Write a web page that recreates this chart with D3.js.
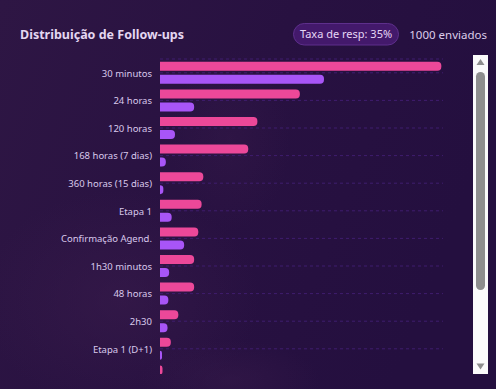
<!DOCTYPE html>
<html>
<head>
<meta charset="utf-8">
<script src="https://cdn.jsdelivr.net/npm/d3@7"></script>
<style>
  html, body { margin: 0; padding: 0; background: #261040; }
  svg { display: block; font-family: "Noto Sans", "Open Sans", sans-serif; }
</style>
</head>
<body>
<div id="chart"></div>
<script>
// categories and values (enviados / respostas)
var categories = [
  "30 minutos", "24 horas", "120 horas", "168 horas (7 dias)", "360 horas (15 dias)",
  "Etapa 1", "Confirmação Agend.", "1h30 minutos", "48 horas", "2h30", "Etapa 1 (D+1)", "Etapa 2"
];
var sentValues = [338, 168, 117, 106, 52, 50, 46, 41, 41, 22, 13, 3];
var respValues = [197, 41, 18, 7, 4, 14, 29, 11, 10, 9, 2, 1];
var seriesKeys = ["sent", "resp"];
var seriesColors = { sent: "#ec4899", resp: "#a855f7" };
var xMax = 340;

var width = 496, height = 389;
var margin = { top: 59, left: 160, right: 53 };
var plotRight = width - margin.right;
var step = 27.6;
var viewTop = 55, viewBottom = 374;

var svg = d3.select("#chart")
  .append("svg")
  .attr("width", width)
  .attr("height", height);

var defs = svg.append("defs");
var bg = defs.append("linearGradient").attr("id", "bg")
  .attr("x1", "0").attr("y1", "0").attr("x2", "1").attr("y2", "0.3");
bg.append("stop").attr("offset", "0%").attr("stop-color", "#2e1644");
bg.append("stop").attr("offset", "55%").attr("stop-color", "#281141");
bg.append("stop").attr("offset", "100%").attr("stop-color", "#240f3f");

var glow = defs.append("radialGradient").attr("id", "glow");
glow.append("stop").attr("offset", "0%").attr("stop-color", "#3a1c4c").attr("stop-opacity", 0.55);
glow.append("stop").attr("offset", "100%").attr("stop-color", "#3a1c4c").attr("stop-opacity", 0);

defs.append("clipPath").attr("id", "view")
  .append("rect")
  .attr("x", 0).attr("y", viewTop)
  .attr("width", width).attr("height", viewBottom - viewTop);

// labels of rows that are scrolled out of view stay hidden
defs.append("clipPath").attr("id", "labelView")
  .append("rect")
  .attr("x", 0).attr("y", viewTop)
  .attr("width", width).attr("height", viewBottom - viewTop - 4);

svg.append("rect").attr("width", width).attr("height", height).attr("fill", "url(#bg)");
svg.append("ellipse").attr("cx", 120).attr("cy", 300).attr("rx", 140).attr("ry", 110).attr("fill", "url(#glow)");
svg.append("ellipse").attr("cx", 230).attr("cy", 140).attr("rx", 60).attr("ry", 90).attr("fill", "url(#glow)").attr("opacity", 0.6);
svg.append("ellipse").attr("cx", 230).attr("cy", 380).attr("rx", 90).attr("ry", 40).attr("fill", "url(#glow)").attr("opacity", 0.8);

// header
svg.append("text")
  .attr("x", 20).attr("y", 39)
  .attr("fill", "#e4d7f1")
  .attr("font-size", "12.5px")
  .attr("font-weight", 700)
  .text("Distribuição de Follow-ups");

svg.append("rect")
  .attr("x", 293.5).attr("y", 23.5)
  .attr("width", 105).attr("height", 21.5)
  .attr("rx", 10.75)
  .attr("fill", "#43196b")
  .attr("stroke", "#5e2f8c");

svg.append("text")
  .attr("x", 346).attr("y", 38)
  .attr("text-anchor", "middle")
  .attr("fill", "#e6d6f5")
  .attr("font-size", "11px")
  .text("Taxa de resp: 35%");

svg.append("text")
  .attr("x", 487).attr("y", 38.5)
  .attr("text-anchor", "end")
  .attr("fill", "#dccdea")
  .attr("font-size", "11.5px")
  .text("1000 enviados");

// scales
var x = d3.scaleLinear()
  .domain([0, xMax])
  .range([margin.left, plotRight]);

var y = d3.scaleBand()
  .domain(categories)
  .range([margin.top, margin.top + step * categories.length])
  .padding(0);

var ySeries = d3.scaleBand()
  .domain(seriesKeys)
  .range([0, y.bandwidth()])
  .paddingInner(4 / 13)
  .paddingOuter(0.2154);

var data = categories.map(function(c, i) {
  return { category: c, sent: sentValues[i], resp: respValues[i] };
});

var plot = svg.append("g").attr("clip-path", "url(#view)");

// grid
var gridYs = [margin.top].concat(categories.map(function(c) { return y(c) + y.bandwidth() / 2; }));
plot.selectAll(".grid")
  .data(gridYs)
  .enter()
  .append("line")
  .attr("class", "grid")
  .attr("x1", margin.left).attr("x2", plotRight)
  .attr("y1", function(d) { return d; })
  .attr("y2", function(d) { return d; })
  .attr("stroke", "#3f1d6e")
  .attr("stroke-width", 1)
  .attr("stroke-dasharray", "3 3");

// category labels
var yAxis = svg.append("g")
  .attr("clip-path", "url(#labelView)")
  .append("g")
  .attr("transform", "translate(" + (margin.left - 8) + ",0)")
  .call(d3.axisLeft(y).tickSize(0).tickPadding(0));
yAxis.select(".domain").remove();
yAxis.selectAll("text")
  .attr("fill", "#d9c9ec")
  .attr("font-size", "9.5px")
  .attr("dy", "0.4em")
  .attr("font-family", "\"Noto Sans\", sans-serif");

// bars with rounded right end
function barPath(x0, y0, w, h, r) {
  r = Math.min(r, w, h / 2);
  return "M" + x0 + "," + y0 +
    "H" + (x0 + w - r) +
    "A" + r + "," + r + " 0 0 1 " + (x0 + w) + "," + (y0 + r) +
    "V" + (y0 + h - r) +
    "A" + r + "," + r + " 0 0 1 " + (x0 + w - r) + "," + (y0 + h) +
    "H" + x0 + "Z";
}

var groups = plot.selectAll(".cat")
  .data(data)
  .enter()
  .append("g")
  .attr("class", "cat")
  .attr("transform", function(d) { return "translate(0," + y(d.category) + ")"; });

groups.selectAll("path")
  .data(function(d) { return seriesKeys.map(function(k) { return { key: k, value: d[k] }; }); })
  .enter()
  .append("path")
  .attr("fill", function(d) { return seriesColors[d.key]; })
  .attr("d", function(d) {
    return barPath(x(0), ySeries(d.key), Math.max(x(d.value) - x(0), 2), ySeries.bandwidth(), 4);
  });

// scrollbar
var sb = svg.append("g");
sb.append("rect").attr("x", 473).attr("y", viewTop).attr("width", 15).attr("height", viewBottom - viewTop).attr("fill", "#fbfbfb");
sb.append("rect").attr("x", 476).attr("y", 72).attr("width", 9).attr("height", 218).attr("rx", 4.5).attr("fill", "#8e8e8e");
sb.append("path").attr("d", "M480.5,59 L484.5,65 L476.5,65 Z").attr("fill", "#8e8e8e");
sb.append("path").attr("d", "M476.5,363.5 L484.5,363.5 L480.5,369.5 Z").attr("fill", "#8e8e8e");
</script>
</body>
</html>
